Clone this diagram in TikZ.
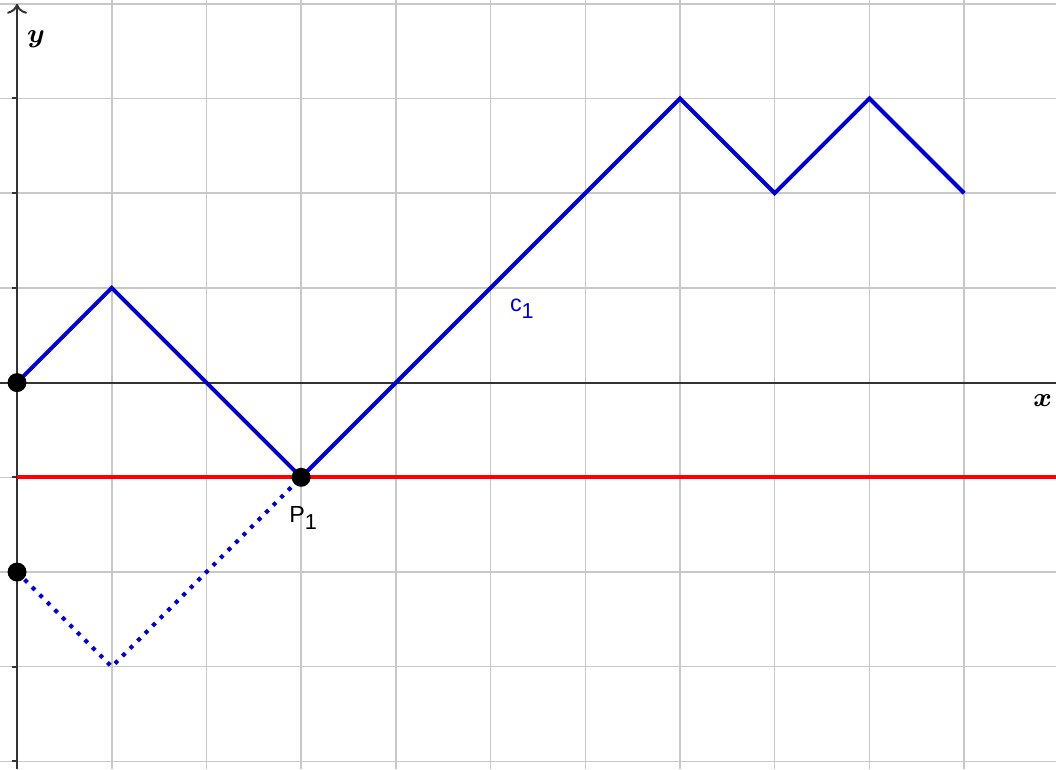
\documentclass[tikz,border=0pt]{standalone}
\usepackage{amsmath}
\usepackage{fontspec}
\setsansfont{Liberation Sans}
\usetikzlibrary{arrows.meta}
\definecolor{gridgray}{RGB}{200,200,200}
\definecolor{pathblue}{RGB}{0,0,204}
\newcommand{\gpsub}[1]{\raisebox{-0.55ex}{\fontsize{6.5}{7}\selectfont #1}}
\tikzset{
  gp grid/.style={draw=gridgray, line width=0.45pt},
  gp axis/.style={draw=black!80, line width=0.6pt},
  gp path/.style={draw=pathblue, line width=1.2pt, line join=miter},
  gp mirror/.style={draw=pathblue, line width=1.2pt, dotted},
  gp level/.style={draw=red, line width=1.2pt},
  gp point/.style={circle, fill=black, inner sep=0pt, minimum size=0.2cm},
  gp label/.style={font=\sffamily\fontsize{7}{8}\selectfont, inner sep=1pt},
  gp axislabel/.style={font=\fontsize{8}{9}\selectfont, inner sep=1pt},
}

\begin{document}
\begin{tikzpicture}[x=1cm, y=1cm]
\useasboundingbox (-0.18,-4.08) rectangle (10.97,4.04);
\fill[white] (-0.18,-4.08) rectangle (10.97,4.04);

% grid
\foreach \i in {1,...,10}
  \draw[gp grid] (\i,-4.08) -- (\i,4.04);
\foreach \j in {-4,...,4}
  \draw[gp grid] (-0.18,\j) -- (10.97,\j);

% axes
\draw[gp axis] (-0.18,0) -- (10.97,0);
\draw[gp axis, -{To[length=3pt,width=6pt]}] (0,-4.08) -- (0,4.0);
\foreach \j in {-4,...,3}
  \draw[gp axis] (-0.05,\j) -- (0,\j);
\node (ylab) [gp axislabel] at (0.2,3.63) {$\boldsymbol{y}$};
\node (xlab) [gp axislabel] at (10.83,-0.19) {$\boldsymbol{x}$};

% vertices
\coordinate (v0) at (0,0);
\coordinate (v1) at (1,1);
\coordinate (v3) at (3,-1);
\coordinate (v7) at (7,3);
\coordinate (v8) at (8,2);
\coordinate (v9) at (9,3);
\coordinate (v10) at (10,2);
\coordinate (m0) at (0,-2);
\coordinate (m1) at (1,-3);
\coordinate (redend) at (10.97,-1);

% level line and paths
\draw[gp level] (0,-1) -- (redend);
\draw[gp mirror] (m0) -- (m1) -- (v3);
\draw[gp path] (v0) -- (v1) -- (v3) -- (v7) -- (v8) -- (v9) -- (v10);

% points
\node (O) [gp point] at (v0) {};
\node (P1) [gp point] at (v3) {};
\node (Q) [gp point] at (m0) {};

\node (P1lab) [gp label, anchor=north] at (3.02,-1.27) {P\gpsub{1}};
\node (c1lab) [gp label, text=pathblue] at (5.33,0.78) {c\gpsub{1}};
\end{tikzpicture}
\end{document}
